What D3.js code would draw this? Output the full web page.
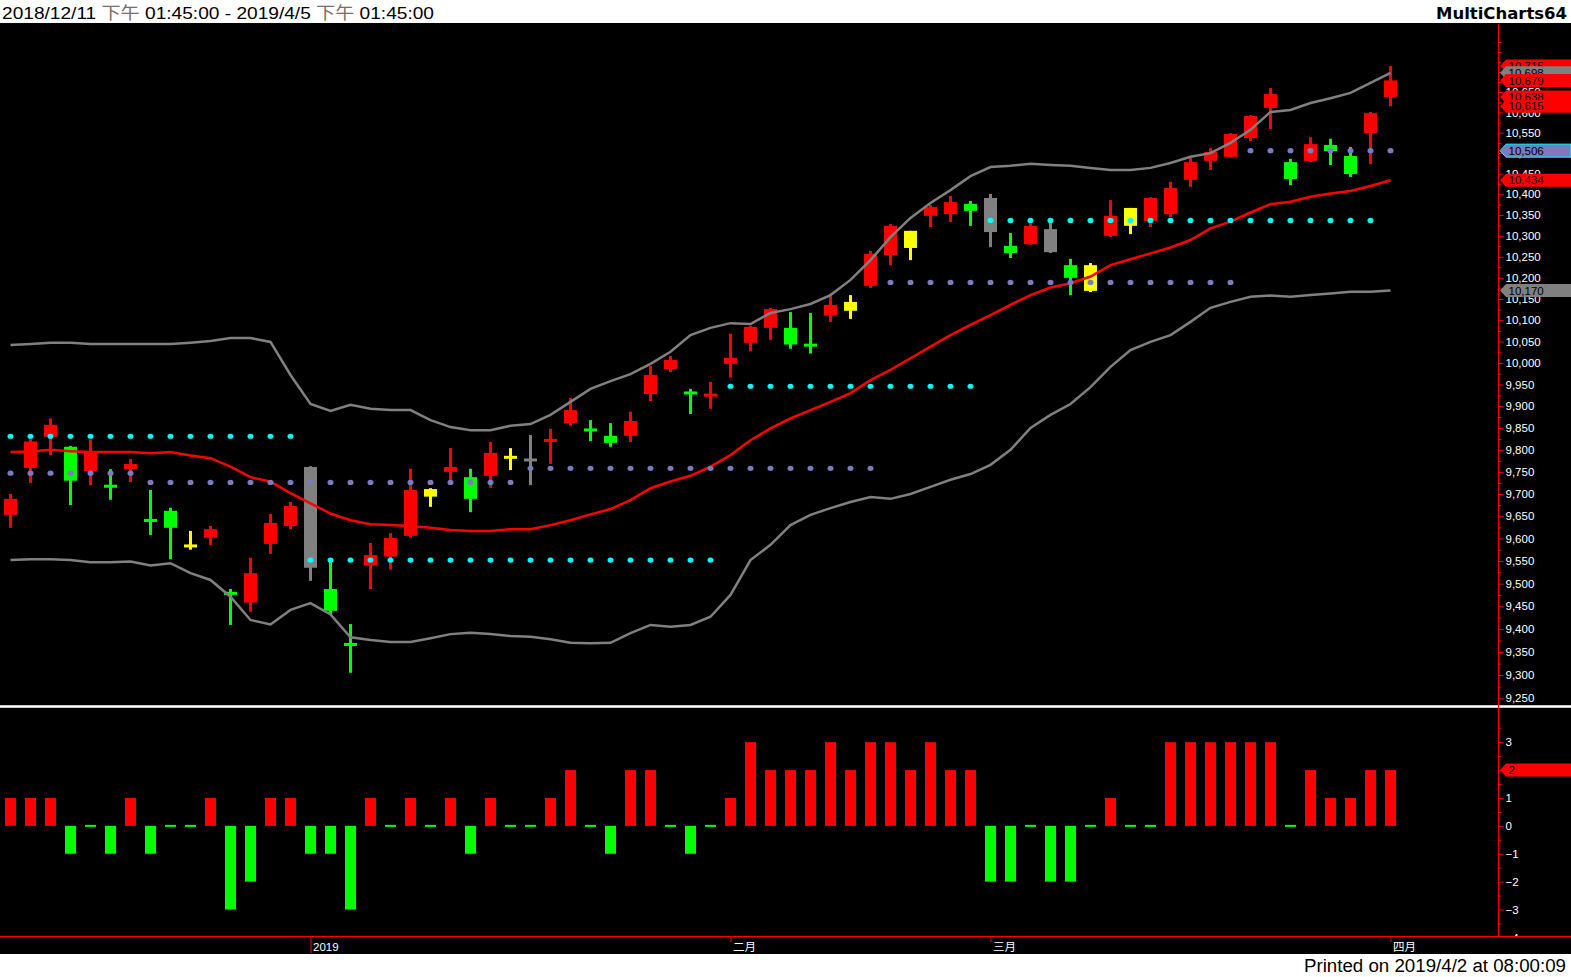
<!DOCTYPE html>
<html><head><meta charset="utf-8">
<script src="https://cdn.jsdelivr.net/npm/d3@7"></script>
<style>body{margin:0;background:#fff;overflow:hidden}svg{display:block}</style>
</head><body>
<svg id="c" width="1571" height="977"></svg>
<script>
// ---------- DATA ----------
const opens  = [9653,9759,9830,9807,9752,9718,9756,9641,9662,9584,9602,9479,9458,9588,9628,9761,9488,9367,9540,9560,9606,9711,9750,9738,9741,9783,9777,9821,9861,9846,9832,9832,9928,9986,9931,9925,9998,10047,10082,10082,10042,10111,10143,10181,10254,10312,10348,10352,10377,10391,10276,10280,10316,10230,10230,10300,10367,10336,10352,10435,10481,10491,10537,10611,10478,10481,10520,10493,10549,10638];
const highs  = [9700,9825,9872,9809,9824,9756,9779,9709,9669,9617,9628,9488,9557,9655,9682,9763,9548,9411,9590,9612,9757,9713,9804,9757,9818,9804,9834,9848,9919,9868,9861,9887,9993,10016,9940,9956,10068,10087,10129,10119,10117,10162,10159,10264,10328,10312,10374,10396,10384,10401,10307,10331,10331,10245,10235,10386,10367,10393,10430,10488,10512,10549,10593,10660,10486,10539,10535,10515,10601,10715];
const lows   = [9624,9725,9788,9675,9720,9687,9727,9608,9554,9575,9586,9409,9438,9566,9621,9506,9431,9305,9488,9531,9602,9671,9729,9659,9714,9754,9720,9768,9855,9820,9807,9818,9912,9979,9882,9894,9966,10028,10054,10033,10022,10096,10103,10176,10230,10242,10321,10333,10324,10273,10247,10279,10259,10159,10166,10297,10304,10321,10345,10418,10459,10490,10530,10559,10422,10478,10471,10442,10473,10615];
const closes = [9689,9819,9857,9730,9796,9717,9768,9640,9624,9583,9621,9478,9523,9635,9673,9535,9440,9366,9563,9601,9709,9694,9761,9689,9793,9783,9777,9822,9891,9845,9816,9866,9972,10007,9930,9926,10012,10084,10126,10043,10041,10136,10122,10257,10324,10271,10369,10381,10360,10309,10259,10324,10261,10200,10169,10348,10324,10391,10415,10478,10503,10547,10591,10645,10437,10522,10505,10449,10598,10679];
// candle paint: r=red, g=green, y=yellow, k=gray
const candleColors = ["r","r","r","g","r","g","r","g","g","y","r","g","r","r","r","k","g","g","r","r","r","y","r","g","r","y","k","r","r","g","g","r","r","r","g","r","r","r","r","g","g","r","y","r","r","y","r","r","g","k","g","r","k","g","y","r","y","r","r","r","r","r","r","r","g","r","g","g","r","r"];
const upperBand  = [10042,10044,10047,10047,10044,10044,10044,10044,10044,10047,10051,10058,10058,10049,9972,9905,9889,9903,9894,9891,9891,9868,9852,9845,9845,9855,9859,9880,9910,9940,9958,9974,9998,10026,10065,10082,10093,10091,10117,10126,10138,10159,10195,10242,10297,10343,10379,10410,10444,10466,10469,10474,10471,10469,10464,10459,10459,10464,10476,10491,10500,10525,10557,10601,10606,10623,10635,10648,10673,10698];
const middleBand = [9795,9796,9800,9797,9795,9795,9795,9792,9795,9787,9781,9762,9738,9728,9702,9679,9656,9641,9632,9630,9628,9624,9619,9617,9617,9621,9621,9630,9641,9654,9666,9686,9713,9728,9741,9762,9788,9822,9849,9872,9891,9910,9930,9960,9984,10011,10038,10065,10089,10112,10136,10159,10177,10187,10203,10230,10244,10258,10272,10290,10318,10334,10356,10376,10382,10394,10402,10408,10420,10434];
const lowerBand  = [9552,9554,9554,9552,9547,9547,9549,9540,9545,9523,9508,9471,9420,9410,9442,9457,9432,9382,9376,9372,9372,9380,9389,9392,9389,9385,9383,9378,9370,9369,9370,9391,9409,9405,9409,9427,9475,9552,9586,9630,9653,9668,9682,9693,9689,9700,9716,9732,9745,9766,9800,9850,9880,9905,9944,9991,10030,10049,10065,10096,10129,10143,10155,10158,10155,10159,10163,10167,10167,10170];
const signalValues = [1,1,1,-1,0,-1,1,-1,0,0,1,-3,-2,1,1,-1,-1,-3,1,0,1,0,1,-1,1,0,0,1,2,0,-1,2,2,0,-1,0,1,3,2,2,2,3,2,3,3,2,3,2,2,-2,-2,0,-2,-2,0,1,0,0,3,3,3,3,3,3,0,2,1,1,2,2];
// dotted level segments: first bar, last bar, price
const cyanLevelFrom  = [0,15,36,49];
const cyanLevelTo    = [14,35,48,68];
const cyanLevelValue = [9831,9552,9946,10337];
const slateLevelFrom  = [0,7,26,44,62];
const slateLevelTo    = [6,25,43,61,69];
const slateLevelValue = [9747,9726,9758,10189,10506];
// time axis
const dateTickIndex  = [15,36,49,69];
const dateTickLabels = ["2019","二月","三月","四月"];
const dateTickMajor  = [true,false,false,false];
// price axis
const priceTicks = d3.range(9250, 10701, 50);
const priceMinorTicks = d3.range(9275, 10776, 50).concat([10750]);
const signalTicks = [-4,-3,-2,-1,0,1,2,3];
// right-axis value markers
const markerValues = [10715,10698,10679,10638,10615,10506,10434,10170];
const markerKinds  = ["r","k","r","r","r","s","r","k"];
const signalMarkerValue = 2;
const titleParts = ["2018/12/11 ","下午"," 01:45:00 - 2019/4/5 ","下午"," 01:45:00"];

// ---------- DRAW ----------
const W = 1571, H = 977;
const svg = d3.select("#c");
const FONT = "'Liberation Sans', Arial, 'Noto Sans CJK TC', sans-serif";
const col = {r:"#ff0000", g:"#00ff00", y:"#ffff00", k:"#808080", s:"#7b7bc0"};

const x  = d3.scaleLinear().domain([0, 69]).range([10.5, 1390.5]);
const y  = d3.scaleLog().domain([9250, 10350]).range([698.27, 215]);
const yi = d3.scaleLinear().domain([-3, 3]).range([909.5, 742.2]);
const AXX = 1498.5;

svg.append("rect").attr("width", W).attr("height", H).attr("fill", "#fff");
svg.append("rect").attr("x", 0).attr("y", 23).attr("width", W).attr("height", 931).attr("fill", "#000");

const defs = svg.append("defs");
defs.append("clipPath").attr("id", "clipP").append("rect").attr("x", 0).attr("y", 24).attr("width", AXX).attr("height", 681);
defs.append("clipPath").attr("id", "clipI").append("rect").attr("x", 0).attr("y", 709).attr("width", AXX).attr("height", 227);
defs.append("clipPath").attr("id", "clipIA").append("rect").attr("x", AXX - 1).attr("y", 709).attr("width", 80).attr("height", 227.5);
defs.append("clipPath").attr("id", "clipPA").append("rect").attr("x", AXX - 1).attr("y", 24).attr("width", 80).attr("height", 681);

const idx = d3.range(opens.length);

// candles
const gP = svg.append("g").attr("clip-path", "url(#clipP)");
gP.selectAll("rect.wick").data(idx).join("rect").attr("class", "wick")
  .attr("x", i => x(i) - 1.5).attr("width", 3)
  .attr("y", i => y(highs[i])).attr("height", i => Math.max(1, y(lows[i]) - y(highs[i])))
  .attr("fill", i => col[candleColors[i]]);
gP.selectAll("rect.body").data(idx).join("rect").attr("class", "body")
  .attr("x", i => x(i) - 6.5).attr("width", 13)
  .attr("y", i => {
    const t = y(Math.max(opens[i], closes[i])), b = y(Math.min(opens[i], closes[i]));
    return (b - t) < 3 ? (t + b) / 2 - 1.5 : t;
  })
  .attr("height", i => {
    const t = y(Math.max(opens[i], closes[i])), b = y(Math.min(opens[i], closes[i]));
    return Math.max(3, b - t);
  })
  .attr("fill", i => col[candleColors[i]]);

// bands
const line = d3.line().x((d, i) => x(i)).y(d => y(d));
gP.append("path").datum(upperBand).attr("d", line).attr("fill", "none").attr("stroke", "#808080").attr("stroke-width", 2.5);
gP.append("path").datum(lowerBand).attr("d", line).attr("fill", "none").attr("stroke", "#808080").attr("stroke-width", 2.5);
gP.append("path").datum(middleBand).attr("d", line).attr("fill", "none").attr("stroke", "#ff0000").attr("stroke-width", 2.5);

// dotted levels
function dots(from, to, vals, color) {
  const pts = [];
  from.forEach((f, k) => { for (let i = f; i <= to[k]; i++) pts.push([i, vals[k]]); });
  gP.append("g").selectAll("ellipse").data(pts).join("ellipse")
    .attr("cx", d => x(d[0])).attr("cy", d => y(d[1])).attr("rx", 3).attr("ry", 2.6).attr("fill", color);
}
dots(cyanLevelFrom, cyanLevelTo, cyanLevelValue, "#00ffff");
dots(slateLevelFrom, slateLevelTo, slateLevelValue, "#7b7bc0");

// indicator panel
const gI = svg.append("g").attr("clip-path", "url(#clipI)");
gI.selectAll("rect.sig").data(idx.filter(i => signalValues[i] !== 0)).join("rect")
  .attr("x", i => x(i) - 5.5).attr("width", 11)
  .attr("y", i => Math.min(yi(signalValues[i]), yi(0)))
  .attr("height", i => Math.abs(yi(signalValues[i]) - yi(0)))
  .attr("fill", i => signalValues[i] > 0 ? "#ff0000" : "#00ff00");
gI.selectAll("rect.zero").data(idx.filter(i => signalValues[i] === 0)).join("rect")
  .attr("x", i => x(i) - 5.5).attr("width", 11)
  .attr("y", yi(0) - 1).attr("height", 2).attr("fill", "#00ff00");

// separator between panels
svg.append("rect").attr("x", 0).attr("y", 705).attr("width", W).attr("height", 3).attr("fill", "#c8c8c8");
svg.append("rect").attr("x", 0).attr("y", 706).attr("width", W).attr("height", 1).attr("fill", "#ffffff");

// right axes
function styleAxis(g) {
  g.select(".domain").remove();
  g.selectAll(".tick line").attr("stroke", "#ff0000");
  g.selectAll(".tick text").attr("fill", "#ffffff").attr("font-family", FONT).attr("font-size", 11.5);
}
const gPA = svg.append("g").attr("clip-path", "url(#clipPA)");
gPA.append("g").attr("transform", `translate(${AXX},0)`)
  .call(d3.axisRight(y).tickValues(priceMinorTicks).tickSize(3).tickFormat(""))
  .call(styleAxis);
gPA.append("g").attr("transform", `translate(${AXX},0)`)
  .call(d3.axisRight(y).tickValues(priceTicks).tickSize(5).tickPadding(2).tickFormat(d3.format(",")))
  .call(styleAxis);
const gIA = svg.append("g").attr("clip-path", "url(#clipIA)");
gIA.append("g").attr("transform", `translate(${AXX},0)`)
  .call(d3.axisRight(yi).tickValues(d3.range(-3.5, 3.6, 1)).tickSize(3).tickFormat(""))
  .call(styleAxis);
gIA.append("g").attr("transform", `translate(${AXX},0)`)
  .call(d3.axisRight(yi).tickValues(signalTicks).tickSize(5).tickPadding(2).tickFormat(d3.format("d")))
  .call(styleAxis);

// axis lines
svg.append("line").attr("x1", AXX).attr("x2", AXX).attr("y1", 24).attr("y2", 937).attr("stroke", "#ff0000").attr("stroke-width", 1);
svg.append("line").attr("x1", 0).attr("x2", W).attr("y1", 936.5).attr("y2", 936.5).attr("stroke", "#ff0000").attr("stroke-width", 1);

// time axis
const gT = svg.append("g").attr("transform", "translate(0,937)")
  .call(d3.axisBottom(x).tickValues(dateTickIndex).tickSize(5).tickPadding(0)
    .tickFormat((d, k) => dateTickLabels[k]));
gT.select(".domain").remove();
gT.selectAll(".tick line").attr("stroke", "#ff0000").attr("y2", (d, k) => dateTickMajor[k] ? 16 : 5);
gT.selectAll(".tick text").attr("fill", "#ffffff").attr("font-family", FONT).attr("font-size", 11.5)
  .attr("text-anchor", "start").attr("x", 2).attr("y", 14).attr("dy", 0);

// markers
function marker(yc, color, label, stroke) {
  const g = svg.append("g");
  g.append("path")
    .attr("d", `M${AXX + 1.5},${yc} L${AXX + 7.5},${yc - 6.5} L${W},${yc - 6.5} L${W},${yc + 6.5} L${AXX + 7.5},${yc + 6.5} Z`)
    .attr("fill", color).attr("stroke", stroke || "none").attr("stroke-width", 1);
  g.append("text").attr("x", AXX + 10).attr("y", yc + 4.2).attr("fill", "#000")
    .attr("font-family", FONT).attr("font-size", 11.5).text(label);
}
markerValues.forEach((v, k) => {
  marker(y(v), col[markerKinds[k]], d3.format(",")(v), markerKinds[k] === "s" ? "#00ffff" : null);
});
marker(yi(signalMarkerValue), "#ff0000", String(signalMarkerValue));

// header
const title = svg.append("text").attr("x", 2).attr("y", 18.5)
  .attr("font-family", FONT).attr("font-size", 17).attr("fill", "#000")
  .attr("textLength", 432).attr("lengthAdjust", "spacingAndGlyphs").style("white-space", "pre");
titleParts.forEach((t, k) => title.append("tspan").attr("fill", k % 2 === 1 ? "#7a6f66" : "#000").text(t));
svg.append("text").attr("x", 1567).attr("y", 18.5).attr("text-anchor", "end")
  .attr("font-family", "Verdana, 'DejaVu Sans', sans-serif").attr("font-weight", "bold").attr("font-size", 16)
  .attr("textLength", 131).attr("lengthAdjust", "spacingAndGlyphs").text("MultiCharts64");
svg.append("text").attr("x", 1566).attr("y", 972).attr("text-anchor", "end")
  .attr("font-family", FONT).attr("font-size", 18).attr("fill", "#000")
  .attr("textLength", 262).attr("lengthAdjust", "spacingAndGlyphs").text("Printed on 2019/4/2 at 08:00:09");
</script>
</body></html>
